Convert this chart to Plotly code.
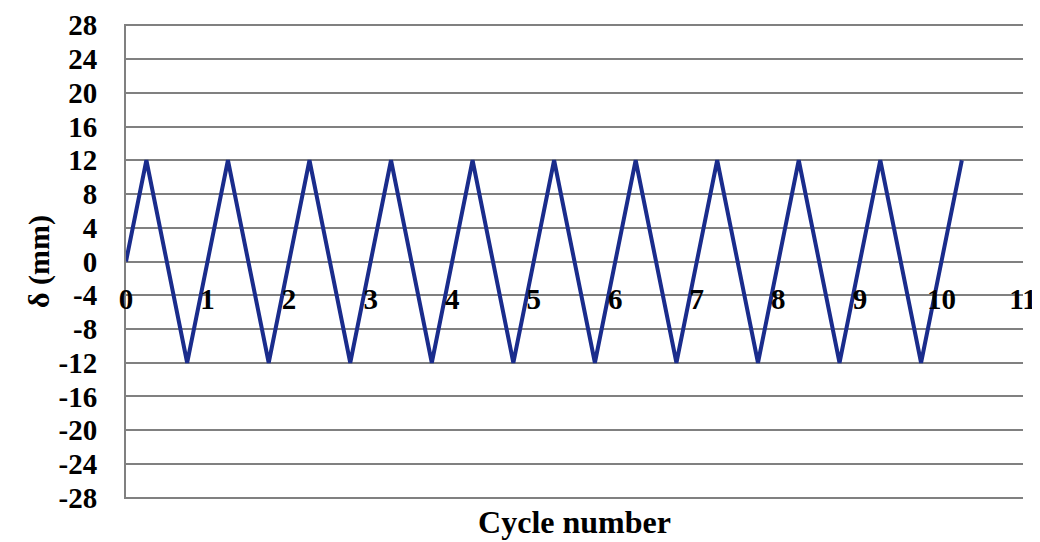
import plotly.graph_objects as go

# Data
cycle = [0, 0.25, 0.75, 1.25, 1.75, 2.25, 2.75, 3.25, 3.75, 4.25, 4.75, 5.25,
         5.75, 6.25, 6.75, 7.25, 7.75, 8.25, 8.75, 9.25, 9.75, 10.25]
delta = [0, 12, -12, 12, -12, 12, -12, 12, -12, 12, -12, 12,
         -12, 12, -12, 12, -12, 12, -12, 12, -12, 12]
x_ticks = list(range(0, 12))
y_ticks = list(range(-28, 29, 4))

FONT = "Liberation Serif"
GRID = "#808080"

fig = go.Figure()
fig.add_trace(go.Scatter(
    x=cycle, y=delta, mode="lines", xaxis="x", yaxis="y",
    line=dict(color="#1a2c8c", width=4), showlegend=False, hoverinfo="skip"))
# empty trace so the bottom (title-carrying) axis is drawn
fig.add_trace(go.Scatter(x=[], y=[], xaxis="x2", yaxis="y",
                         showlegend=False, hoverinfo="skip"))

fig.update_layout(
    width=1032, height=534,
    margin=dict(l=118, r=17, t=16, b=43),
    paper_bgcolor="white", plot_bgcolor="white",
    font=dict(family=FONT, color="black"),
    xaxis=dict(
        range=[0, 11], tickvals=x_ticks, ticktext=[str(v) for v in x_ticks],
        anchor="free", position=0.5, showgrid=False, zeroline=False,
        showline=False, ticks="outside", ticklen=12, tickcolor="rgba(0,0,0,0)",
        tickfont=dict(family=FONT, size=29, weight="bold", color="black"),
        automargin=False, ticklabeloverflow="allow",
    ),
    xaxis2=dict(
        range=[0, 11], overlaying="x", anchor="y", side="bottom",
        showgrid=False, zeroline=False, showline=False,
        showticklabels=False, ticks="",
        title=dict(text="<b>Cycle number</b>", standoff=11,
                   font=dict(family=FONT, size=32, color="black")),
        automargin=False,
    ),
    yaxis=dict(
        range=[-28.15, 28.15], tickvals=y_ticks, ticktext=[str(v) for v in y_ticks],
        showgrid=True, gridcolor=GRID, gridwidth=2, zeroline=False,
        showline=True, linecolor=GRID, linewidth=2,
        ticks="outside", ticklen=21, tickcolor="rgba(0,0,0,0)",
        tickfont=dict(family=FONT, size=29, weight="bold", color="black"),
        title=dict(text="<b>δ (mm)</b>", standoff=0,
                   font=dict(family=FONT, size=30, color="black")),
        automargin=False, ticklabeloverflow="allow",
    ),
)

fig.write_html("out.html")
